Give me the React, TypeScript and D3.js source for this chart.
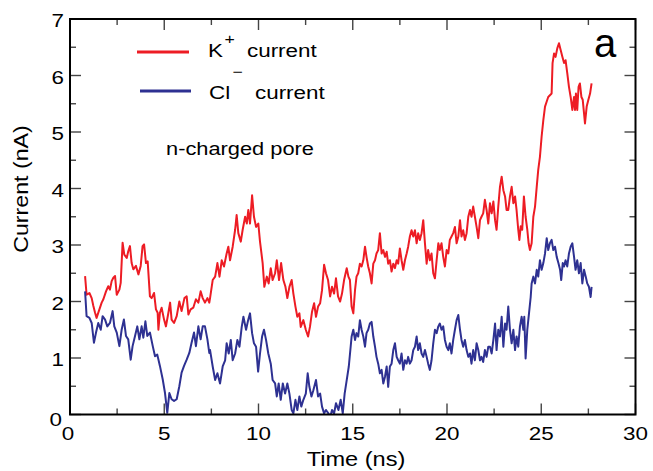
import * as d3 from "d3";

// K+ current (red)
const kTime = [
  0.8, 0.88, 1.03, 1.15, 1.24, 1.33, 1.41, 1.56, 1.68, 1.77, 1.91, 2.03, 2.12, 2.21, 2.3, 2.39, 2.48, 2.62, 2.69, 2.79,
  2.88, 3.01, 3.09, 3.18, 3.27, 3.36, 3.5, 3.63, 3.75, 3.85, 3.93, 4.03, 4.12, 4.24, 4.33, 4.46, 4.56, 4.65, 4.69, 4.77,
  4.86, 4.99, 5.09, 5.22, 5.31, 5.39, 5.52, 5.66, 5.8, 5.92, 6.07, 6.19, 6.28, 6.4, 6.54, 6.68, 6.81, 6.93, 7.04, 7.16,
  7.29, 7.39,
  7.43, 7.57, 7.7, 7.82, 7.93, 8.05, 8.17, 8.31, 8.4, 8.49, 8.63, 8.76, 8.84, 8.93, 9.06, 9.16, 9.29, 9.38, 9.46, 9.55,
  9.66, 9.76, 9.87, 9.99, 10.08, 10.22, 10.31, 10.44, 10.54, 10.65, 10.75, 10.88, 10.97, 11.09, 11.2, 11.32, 11.43, 11.53,
  11.64, 11.76, 11.85, 11.96, 12.06, 12.17, 12.24, 12.38, 12.51, 12.63, 12.73, 12.84, 12.95, 13.05, 13.16, 13.27, 13.37,
  13.48, 13.58, 13.69, 13.8, 13.9, 14.01, 14.11, 14.22, 14.33, 14.43, 14.54, 14.68, 14.77,
  14.85, 14.94, 15.03, 15.12, 15.2, 15.29, 15.38, 15.47, 15.56, 15.65, 15.73, 15.82, 15.91, 16.0, 16.09, 16.18, 16.26,
  16.35, 16.44, 16.53, 16.62, 16.71, 16.8, 16.88, 16.97, 17.06, 17.15, 17.24, 17.33, 17.41, 17.5, 17.59, 17.68, 17.77,
  17.86, 17.94, 18.03, 18.12, 18.21, 18.3, 18.39, 18.47, 18.56, 18.65, 18.74, 18.83, 18.92, 19.0, 19.09, 19.18, 19.27,
  19.36, 19.45, 19.54, 19.62, 19.71, 19.8, 19.89, 19.98, 20.07, 20.15, 20.24, 20.33, 20.42, 20.51, 20.6, 20.69, 20.77,
  20.86, 20.95, 21.04, 21.13, 21.22, 21.3, 21.39, 21.48, 21.57, 21.66, 21.75, 21.83, 21.92, 22.01, 22.1, 22.19,
  22.28, 22.37, 22.46, 22.55, 22.63, 22.72, 22.81, 22.9, 22.99, 23.08, 23.16, 23.25, 23.34, 23.43, 23.52, 23.61, 23.69,
  23.78, 23.84, 23.91, 23.99, 24.08, 24.17, 24.26, 24.33, 24.4, 24.49, 24.58, 24.67, 24.76, 24.84, 24.93, 25.02, 25.11,
  25.2, 25.29, 25.37, 25.46, 25.55, 25.6, 25.68, 25.76, 25.85, 25.94, 26.03, 26.12, 26.21, 26.29, 26.38, 26.47, 26.56,
  26.65, 26.74, 26.79, 26.84, 26.91, 26.98, 27.05, 27.13, 27.2, 27.27, 27.32, 27.41, 27.5, 27.59, 27.67,
];
const kCurrent = [
  2.45, 2.12, 2.15, 2.06, 1.92, 1.8, 1.71, 1.86, 1.98, 2.04, 2.18, 2.27, 2.21, 2.36, 2.42, 2.45, 2.12, 2.21, 2.33, 3.04,
  2.83, 2.77, 2.89, 2.98, 2.68, 2.57, 2.63, 2.48, 2.63, 2.98, 3.01, 2.68, 2.71, 2.09, 2.06, 2.15, 1.86, 1.8, 1.5, 1.8,
  1.89, 1.68, 1.56, 1.8, 1.98, 1.68, 1.62, 1.74, 2.0, 1.83, 2.06, 2.09, 1.77, 1.86, 1.89, 2.04, 1.98, 2.18, 2.06, 1.98,
  2.06, 1.98,
  2.06, 2.38, 2.44, 2.68, 2.44, 2.73, 2.62, 2.85, 2.97, 2.73, 2.97, 3.27, 3.53, 3.21, 3.06, 3.27, 3.5, 3.38, 3.62, 3.38,
  3.88, 3.5, 3.32, 3.38, 3.06, 2.68, 2.26, 2.44, 2.32, 2.59, 2.38, 2.5, 2.73, 2.38, 2.68, 2.38, 2.26, 2.06,
  2.26, 2.38, 2.14, 1.91, 1.73, 1.79, 1.55, 1.67, 1.5, 1.38, 1.55, 1.82, 1.97, 1.73, 1.91, 1.97, 2.2,
  2.65, 2.5, 2.38, 2.09, 2.26, 2.14, 2.41, 2.09, 2.0, 2.14, 2.38, 2.59, 2.44,
  2.38, 1.91, 1.79, 2.2, 2.44, 2.5, 2.67, 2.62, 2.73, 2.97, 2.79, 2.62, 2.5, 2.32, 2.67, 2.73, 2.85,
  2.91, 3.21, 2.85, 2.91, 2.79, 2.88, 2.67, 2.73, 2.53, 2.67, 2.59, 2.73, 2.67, 2.94, 2.73, 2.56, 2.73,
  2.85, 2.97, 3.15, 3.26, 3.15, 3.26, 3.03, 3.21, 3.09, 3.21, 3.44, 3.03, 2.67, 2.91, 2.73, 2.85, 2.5,
  2.41, 2.73, 3.03, 2.91, 3.03, 2.79, 2.62, 2.91, 2.85, 3.09, 3.15, 3.21, 3.32, 3.03, 3.15, 3.44, 3.15,
  3.26, 3.09, 3.21, 3.5, 3.62, 3.5, 3.68, 3.5, 3.32, 3.12, 3.44, 3.5, 3.56, 3.8, 3.62, 3.38,
  3.74, 3.56, 3.77, 3.44, 3.27, 3.68, 4.03, 4.21, 3.97, 3.86, 3.62, 3.62, 3.86, 4.03, 3.74, 3.86, 3.62,
  3.27, 3.09, 3.33, 3.27, 3.86, 3.5, 3.27, 3.03, 2.91, 3.03, 3.5, 3.68, 4.03, 4.33, 4.56, 4.92, 5.21,
  5.45, 5.54, 5.62, 5.65, 5.68, 6.22, 6.39, 6.33, 6.48, 6.57, 6.45, 6.33, 6.22, 6.27, 6.04, 5.8, 5.62,
  5.39, 5.62, 5.39, 5.68, 5.39, 5.8, 5.86, 5.62, 5.57, 5.33, 5.15, 5.45, 5.57, 5.68, 5.86,
];

// Cl- current (blue)
const clTime = [
  0.8, 0.88, 1.03, 1.15, 1.27, 1.38, 1.5, 1.63, 1.73, 1.86, 1.98, 2.12, 2.26, 2.35, 2.48, 2.62, 2.74, 2.86, 2.97, 3.09,
  3.22, 3.32, 3.45, 3.57, 3.68, 3.8, 3.89, 4.0, 4.1, 4.24, 4.39, 4.51, 4.63, 4.77, 4.92, 5.04, 5.16, 5.27, 5.39, 5.52,
  5.66, 5.8, 5.92, 6.05, 6.19, 6.33, 6.45, 6.58, 6.68, 6.81, 6.93, 7.04, 7.16, 7.29, 7.39,
  7.43, 7.57, 7.7, 7.82, 7.96, 8.1, 8.23, 8.31, 8.42, 8.53, 8.63, 8.76, 8.88, 8.99, 9.11, 9.2, 9.34, 9.45, 9.55, 9.66,
  9.76, 9.87, 9.98, 10.08, 10.19, 10.29, 10.4, 10.52, 10.65, 10.75, 10.88, 10.97, 11.07, 11.18, 11.29, 11.41, 11.53,
  11.64, 11.76, 11.85, 11.96, 12.06, 12.17, 12.27, 12.38, 12.51, 12.61, 12.7, 12.81, 12.91, 13.05, 13.16, 13.27, 13.37,
  13.48, 13.58, 13.71, 13.8, 13.9, 14.01, 14.11, 14.24, 14.36, 14.47, 14.57, 14.68, 14.79,
  14.94, 15.03, 15.12, 15.2, 15.29, 15.38, 15.47, 15.56, 15.65, 15.73, 15.82, 15.91, 16.0, 16.09, 16.18, 16.26, 16.35,
  16.44, 16.53, 16.62, 16.71, 16.8, 16.88, 16.97, 17.06, 17.15, 17.24, 17.33, 17.41, 17.5, 17.59, 17.68, 17.77, 17.86,
  17.94, 18.03, 18.12, 18.21, 18.3, 18.39, 18.47, 18.56, 18.65, 18.74, 18.83, 18.92, 19.0, 19.09, 19.18, 19.27, 19.36,
  19.45, 19.54, 19.62, 19.71, 19.8, 19.89, 19.98, 20.07, 20.15, 20.24, 20.33, 20.42, 20.51, 20.6, 20.69, 20.77, 20.86,
  20.95, 21.04, 21.13, 21.22, 21.3, 21.39, 21.48, 21.57, 21.66, 21.75, 21.83, 21.92, 22.01, 22.1, 22.19,
  22.28, 22.37, 22.46, 22.55, 22.63, 22.72, 22.81, 22.9, 22.99, 23.08, 23.16, 23.25, 23.34, 23.43, 23.52, 23.61, 23.69,
  23.78, 23.87, 23.96, 24.05, 24.1, 24.17, 24.26, 24.35, 24.44, 24.49, 24.58, 24.67, 24.76, 24.84, 24.93, 25.02, 25.11,
  25.2, 25.29, 25.37, 25.46, 25.55, 25.64, 25.73, 25.82, 25.91, 26.0, 26.06, 26.14, 26.21, 26.29, 26.38, 26.47, 26.56,
  26.65, 26.74, 26.82, 26.91, 27.0, 27.09, 27.18, 27.27, 27.36, 27.44, 27.53, 27.62, 27.67,
];
const clCurrent = [
  2.18, 1.74, 1.71, 1.62, 1.27, 1.45, 1.62, 1.5, 1.74, 1.68, 1.56, 1.62, 1.83, 1.56, 1.45, 1.21, 1.5, 1.68, 1.39, 1.33,
  0.97, 1.21, 1.39, 1.56, 1.33, 1.56, 1.36, 1.65, 1.39, 1.45, 1.21, 1.03, 1.06, 0.86, 0.62, 0.38, 0.03, 0.38, 0.27, 0.24,
  0.27, 0.5, 0.74, 0.86, 0.97, 1.09, 1.27, 1.45, 1.21, 1.56, 1.33, 1.56, 1.56, 1.33, 1.09,
  1.14, 0.85, 0.61, 0.73, 0.55, 0.85, 0.96, 1.26, 1.08, 1.32, 0.96, 1.08, 1.32, 1.2, 1.55, 1.73, 1.5, 1.67, 1.79, 1.44,
  1.26, 1.2, 0.76, 1.08, 1.38, 1.5, 1.32, 1.08, 0.9, 0.61, 0.55, 0.32, 0.55, 0.26, 0.55, 0.37, 0.55,
  0.37, 0.08, 0.02, 0.26, 0.08, 0.32, 0.14, 0.26, 0.37, 0.73, 0.49, 0.32, 0.43, 0.61, 0.32, 0.37, 0.14,
  0.02, 0.08, 0.02, -0.05, 0.08, 0.02, 0.2, 0.08, 0.26, 0.02, 0.37, 0.61, 0.85,
  1.38, 1.5, 1.32, 1.44, 1.38, 1.67, 1.5, 1.38, 1.2, 1.44, 1.5, 1.61, 1.64, 1.38, 1.2, 1.02, 0.9,
  0.73, 0.79, 0.55, 0.67, 0.85, 0.49, 0.85, 0.9, 1.14, 1.26, 1.02, 0.96, 0.9, 1.08, 0.79, 0.96, 0.9,
  1.02, 0.9, 0.96, 1.14, 1.2, 1.38, 1.14, 1.26, 1.08, 1.02, 1.14, 1.02, 0.9, 0.79, 0.96, 1.26, 1.5,
  1.44, 1.56, 1.61, 1.5, 1.56, 1.32, 1.2, 1.14, 1.26, 1.08, 1.32, 1.5, 1.67, 1.76, 1.5, 1.32, 1.2,
  1.32, 1.14, 1.02, 1.08, 0.9, 1.14, 0.96, 1.26, 1.14, 0.96, 1.02, 0.93, 1.14, 1.02, 1.2,
  1.2, 1.08, 1.32, 1.61, 1.14, 1.5, 1.38, 1.73, 1.2, 1.61, 1.5, 1.91, 1.5, 1.26, 1.5, 1.14, 1.38,
  1.2, 1.56, 1.73, 1.5, 1.73, 0.99, 1.5, 1.79, 2.08, 2.32, 2.44, 2.32, 2.56, 2.44, 2.73, 2.56, 2.68,
  2.85, 3.12, 2.91, 3.03, 3.09, 2.91, 2.97, 2.79, 2.68, 2.56, 2.38, 2.68, 2.62, 2.73, 2.62, 2.85, 2.97,
  3.03, 2.79, 2.56, 2.73, 2.5, 2.68, 2.32, 2.56, 2.44, 2.32, 2.26, 2.08, 2.26,
];

const xTickValues = [0, 5, 10, 15, 20, 25, 30];
const yTickValues = [0, 1, 2, 3, 4, 5, 6, 7];
const xTitle = "Time (ns)";
const yTitle = "Current (nA)";
const note = "n-charged pore";
const panel = "a";

const W = 653, H = 471;
const margin = { top: 19, right: 17.5, bottom: 56.5, left: 70 };
const RED = "#ed1c24";
const BLUE = "#2e3192";
const FONT = "'Liberation Sans', Arial, Helvetica, sans-serif";
const SX = 1.18; // the source font runs wider than Arial

function Txt({ x, y, size, anchor = "start", rot = 0, sx = SX, children }: any) {
  return (
    <text
      transform={`translate(${x},${y}) rotate(${rot}) scale(${sx},1)`}
      fontSize={size}
      textAnchor={anchor}
      fontFamily={FONT}
      fill="#000"
    >
      {children}
    </text>
  );
}

export default function App() {
  const x = d3.scaleLinear().domain([0, 30]).range([margin.left, W - margin.right]);
  const y = d3.scaleLinear().domain([0, 7]).range([H - margin.bottom, margin.top]);

  const line = d3
    .line<[number, number]>()
    .x((d) => x(d[0]))
    .y((d) => y(d[1]));

  const kPath = line(kTime.map((t, i) => [t, kCurrent[i]]));
  const clPath = line(clTime.map((t, i) => [t, clCurrent[i]]));

  const x0 = x(0), x1 = x(30), y0 = y(0), y1 = y(7);
  const xMinor = d3.range(0, 30.01, 2.5);
  const yMinor = d3.range(0, 7.01, 0.5);

  return (
    <svg width={W} height={H} style={{ position: "absolute", left: 0, top: 0, background: "#fff" }}>
      <defs>
        <clipPath id="plot">
          <rect x={x0} y={y1} width={x1 - x0} height={y0 - y1} />
        </clipPath>
      </defs>

      <g clipPath="url(#plot)" fill="none" strokeWidth={2} strokeLinejoin="round">
        <path d={kPath || ""} stroke={RED} />
        <path d={clPath || ""} stroke={BLUE} />
      </g>

      {/* ticks, pointing inward on all four sides */}
      <g stroke="#444" strokeWidth={1.4}>
        {xMinor.map((v) => {
          const len = v % 5 === 0 ? 11 : 6;
          return (
            <g key={"xt" + v}>
              <line x1={x(v)} x2={x(v)} y1={y0} y2={y0 - len} />
              <line x1={x(v)} x2={x(v)} y1={y1} y2={y1 + len} />
            </g>
          );
        })}
        {yMinor.map((v) => {
          const len = v % 1 === 0 ? 11 : 6;
          return (
            <g key={"yt" + v}>
              <line x1={x0} x2={x0 + len} y1={y(v)} y2={y(v)} />
              <line x1={x1} x2={x1 - len} y1={y(v)} y2={y(v)} />
            </g>
          );
        })}
      </g>
      <rect x={x0} y={y1} width={x1 - x0} height={y0 - y1} fill="none" stroke="#000" strokeWidth={2} />

      {xTickValues.map((v) => (
        <Txt key={"xl" + v} x={v === 0 ? x(v) - 2 : x(v)} y={y0 + 25} size={19} anchor="middle">
          {v}
        </Txt>
      ))}
      {yTickValues.map((v) => (
        <Txt key={"yl" + v} x={v === 0 ? x0 - 8 : x0 - 6} y={v === 0 ? y(v) + 11.5 : y(v) + 8} size={19} anchor="end">
          {v}
        </Txt>
      ))}

      <Txt x={356} y={466} size={20} anchor="middle">{xTitle}</Txt>
      <Txt x={28} y={189} size={20} anchor="middle" rot={-90} sx={1.16}>{yTitle}</Txt>

      {/* legend */}
      <line x1={137} x2={189} y1={52} y2={52} stroke={RED} strokeWidth={3} />
      <Txt x={208} y={57.3} size={19}>K</Txt>
      <Txt x={224.5} y={43.6} size={15}>+</Txt>
      <Txt x={247} y={57.3} size={19}>current</Txt>

      <line x1={140} x2={191} y1={91} y2={91} stroke={BLUE} strokeWidth={3} />
      <Txt x={209} y={99} size={19}>Cl</Txt>
      <Txt x={232.5} y={77} size={15}>−</Txt>
      <Txt x={255} y={99} size={19}>current</Txt>

      <Txt x={166} y={155} size={18.5}>{note}</Txt>
      <Txt x={594} y={56.5} size={40} sx={1.0}>{panel}</Txt>
    </svg>
  );
}
